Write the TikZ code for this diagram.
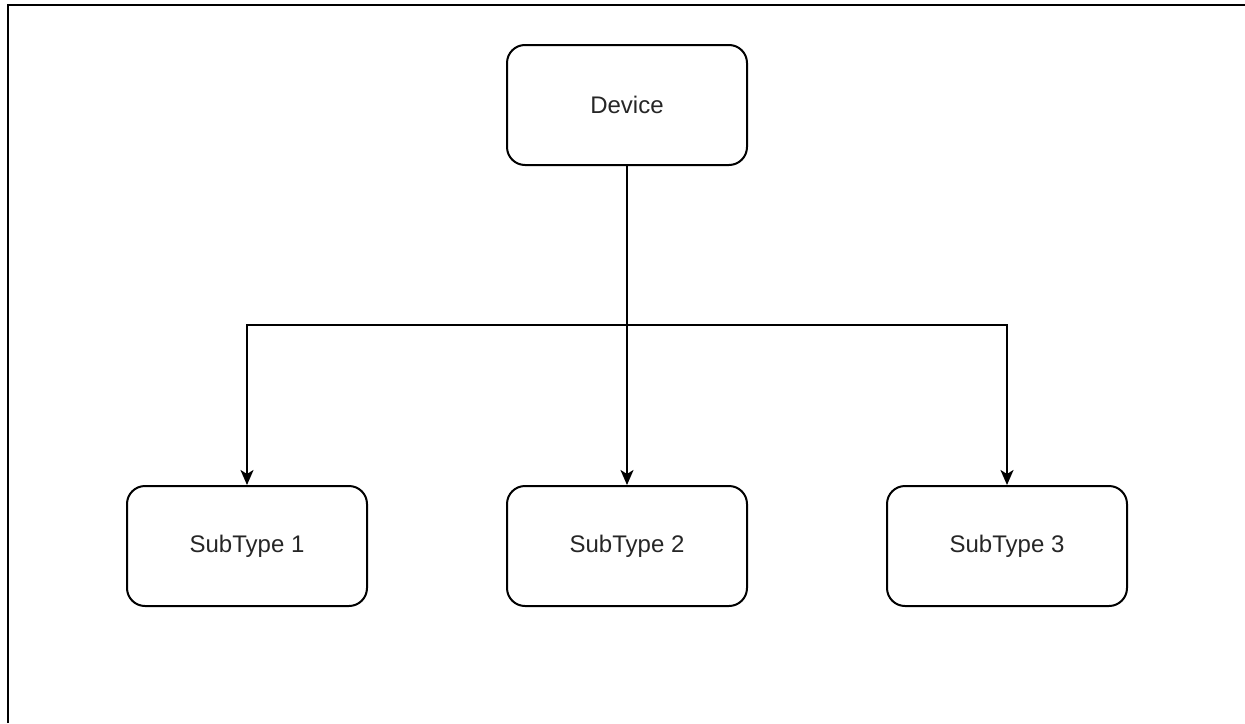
\documentclass[tikz,border=0pt]{standalone}
\usepackage{fontspec}
\setmainfont{Liberation Sans}
\usetikzlibrary{arrows.meta}
\begin{document}
\begin{tikzpicture}[x=1pt,y=-1pt,
  box/.style={draw, line width=2pt, rounded corners=18pt, minimum width=240pt, minimum height=120pt, inner sep=0pt, font=\fontsize{24}{28}\selectfont, text=black!85},
  conn/.style={line width=2pt, -{Stealth[length=15pt,width=13pt,inset=4pt]}}]
\useasboundingbox (0,0) rectangle (1245,723);
\draw[line width=2.5pt] (8,723) -- (8,5) -- (1245,5);
\node[box] (dev) at (627,105) {Device};
\node[box] (s1) at (247,546) {SubType 1};
\node[box] (s2) at (627,546) {SubType 2};
\node[box] (s3) at (1007,546) {SubType 3};
\coordinate (j) at (627,325);
\draw[conn] (dev.south) -- (s2.north);
\draw[conn] (dev.south) |- (j) -| (s1.north);
\draw[conn] (dev.south) |- (j) -| (s3.north);
\end{tikzpicture}
\end{document}
